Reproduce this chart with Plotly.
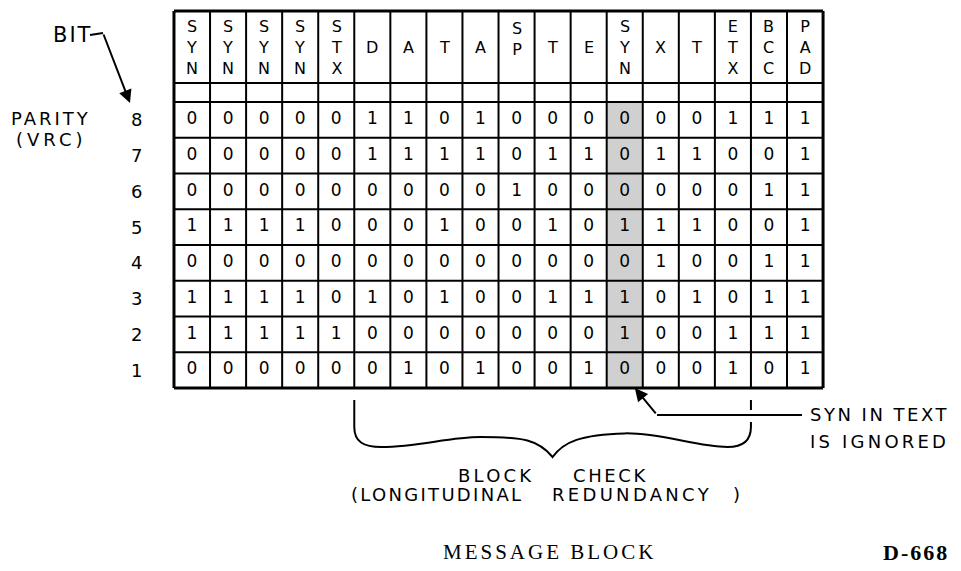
import plotly.graph_objects as go

# ---------------- data ----------------
COLUMNS = ["SYN", "SYN", "SYN", "SYN", "STX", "D", "A", "T", "A", "SP",
           "T", "E", "SYN", "X", "T", "ETX", "BCC", "PAD"]
BITS = [8, 7, 6, 5, 4, 3, 2, 1]
BIT_8 = [0, 0, 0, 0, 0, 1, 1, 0, 1, 0, 0, 0, 0, 0, 0, 1, 1, 1]
BIT_7 = [0, 0, 0, 0, 0, 1, 1, 1, 1, 0, 1, 1, 0, 1, 1, 0, 0, 1]
BIT_6 = [0, 0, 0, 0, 0, 0, 0, 0, 0, 1, 0, 0, 0, 0, 0, 0, 1, 1]
BIT_5 = [1, 1, 1, 1, 0, 0, 0, 1, 0, 0, 1, 0, 1, 1, 1, 0, 0, 1]
BIT_4 = [0, 0, 0, 0, 0, 0, 0, 0, 0, 0, 0, 0, 0, 1, 0, 0, 1, 1]
BIT_3 = [1, 1, 1, 1, 0, 1, 0, 1, 0, 0, 1, 1, 1, 0, 1, 0, 1, 1]
BIT_2 = [1, 1, 1, 1, 1, 0, 0, 0, 0, 0, 0, 0, 1, 0, 0, 1, 1, 1]
BIT_1 = [0, 0, 0, 0, 0, 0, 1, 0, 1, 0, 0, 1, 0, 0, 0, 1, 0, 1]
ROWS = [BIT_8, BIT_7, BIT_6, BIT_5, BIT_4, BIT_3, BIT_2, BIT_1]
IGNORED_COLUMN = 12          # SYN in text (shaded)
BLOCK_CHECK_FIRST = 5        # "D"
BLOCK_CHECK_LAST = 15        # "ETX"

# ---------------- style / layout ----------------
FONT = "DejaVu Sans"
SHADE = "#d0d0d0"
X_RANGE = [-5.103, 21.547]
Y_RANGE = [-4.843, 11.129]
HEADER_BOTTOM = 9.03
TABLE_TOP = 11.045
HEADER_MID = 10.03


def sp(text, ls):
    return f'<span style="letter-spacing:{ls}px">{text}</span>'


n = len(COLUMNS)
fig = go.Figure()

# shaded column (data rows only)
z = [[1 if c == IGNORED_COLUMN else None for c in range(n)] for _ in BITS]
fig.add_trace(go.Heatmap(
    x=list(range(n)), y=BITS, z=z,
    colorscale=[[0, SHADE], [1, SHADE]], showscale=False, hoverinfo="skip"))

# bit values
xs, ys, ts = [], [], []
for b, row in zip(BITS, ROWS):
    for c, v in enumerate(row):
        xs.append(c)
        ys.append(b)
        ts.append(str(v))
fig.add_trace(go.Scatter(
    x=xs, y=ys, text=ts, mode="text", textposition="middle center",
    textfont=dict(family=FONT, size=17, color="black"), hoverinfo="skip"))

shapes = []
# vertical grid lines
for k in range(n + 1):
    w = 3 if k in (0, n) else 2
    shapes.append(dict(type="line", xref="x", yref="y", x0=k - 0.5, x1=k - 0.5,
                       y0=min(BITS) - 0.5, y1=TABLE_TOP,
                       line=dict(color="black", width=w)))
# horizontal grid lines
hys = [b - 0.5 for b in range(min(BITS), max(BITS) + 2)] + [HEADER_BOTTOM, TABLE_TOP]
for y in hys:
    w = 3 if y in (min(BITS) - 0.5, TABLE_TOP) else 2
    shapes.append(dict(type="line", xref="x", yref="y", x0=-0.5, x1=n - 0.5,
                       y0=y, y1=y, line=dict(color="black", width=w)))

# brace under the block-check columns
x0 = BLOCK_CHECK_FIRST - 0.5
x1 = BLOCK_CHECK_LAST + 0.5
xm = (x0 + x1) / 2
brace = (f"M {x0},0.164 L {x0},-0.59 "
         f"C {x0},-1.0 {x0+0.25},-1.15 {x0+0.75},-1.15 "
         f"C {x0+1.8},-1.15 {x0+2.6},-0.87 {x0+3.5},-0.87 "
         f"C {xm-0.8},-0.87 {xm-0.4},-0.95 {xm},-1.43 "
         f"C {xm+0.3},-1.0 {xm+0.8},-0.8 {xm+2.0},-0.77 "
         f"C {xm+3.0},-0.75 {xm+4.0},-1.15 {xm+4.85},-1.15 "
         f"C {x1-0.2},-1.15 {x1},-0.95 {x1},-0.59 L {x1},-0.45 "
         f"M {x1},0.164 L {x1},-0.115")
shapes.append(dict(type="path", xref="x", yref="y", path=brace,
                   line=dict(color="black", width=2)))

# SYN-in-text leader line
syn_corner_x = IGNORED_COLUMN + 0.894
syn_y = -0.255
shapes.append(dict(type="line", xref="x", yref="y", x0=syn_corner_x, x1=16.915,
                   y0=syn_y, y1=syn_y, line=dict(color="black", width=2)))
# BIT dash
shapes.append(dict(type="line", xref="x", yref="y", x0=-2.83, x1=-2.469,
                   y0=10.374, y1=10.43, line=dict(color="black", width=2)))

ann = []
# column headers (stacked letters)
for c, lab in enumerate(COLUMNS):
    y = HEADER_MID
    if len(lab) == 2:
        y = HEADER_MID + 0.22
    ann.append(dict(x=c, y=y, text="<br>".join(lab), showarrow=False,
                    xanchor="center", yanchor="middle",
                    font=dict(family=FONT, size=16, color="black")))
# row labels
for b in BITS:
    ann.append(dict(x=-1.526, y=b, text=str(b), showarrow=False,
                    xanchor="center", yanchor="middle",
                    font=dict(family=FONT, size=18, color="black")))


def txt(x, y, t, size=18, ls=3, xanchor="center", family=FONT, bold=False):
    s = sp(t, ls)
    if bold:
        s = f"<b>{s}</b>"
    ann.append(dict(x=x, y=y, text=s, showarrow=False, xanchor=xanchor,
                    yanchor="middle", font=dict(family=family, size=size, color="black")))


txt(-3.315, 10.374, "BIT", size=21, ls=2)
txt(-3.911, 8.052, "PARITY", size=18, ls=3)
txt(-3.897, 7.437, "(VRC)", size=18, ls=4)
txt(17.08, syn_y, "SYN IN TEXT", size=18, ls=2.5, xanchor="left")
txt(17.08, -1.01, "IS IGNORED", size=18, ls=3.2, xanchor="left")
txt(8.443, -1.934, "BLOCK", size=18, ls=3.2)
txt(11.605, -1.934, "CHECK", size=18, ls=2.6)
txt(6.78, -2.493, "(LONGITUDINAL", size=18, ls=2.3)
txt(12.2, -2.493, "REDUNDANCY", size=18, ls=3.3)
txt(15.1, -2.493, ")", size=18, ls=0)
txt(9.9, -4.1, "MESSAGE BLOCK", size=21, ls=3, family="Liberation Serif")
txt(20.08, -4.1, "D-668", size=22, ls=2, family="Liberation Serif", bold=True)

# arrows
ann.append(dict(x=IGNORED_COLUMN + 0.28, y=min(BITS) - 0.5, ax=syn_corner_x, ay=syn_y,
                axref="x", ayref="y", xref="x", yref="y", text="", showarrow=True,
                arrowhead=2, arrowsize=1.3, arrowwidth=2, arrowcolor="black", standoff=0))
ann.append(dict(x=-1.72, y=8.472, ax=-2.469, ay=10.43,
                axref="x", ayref="y", xref="x", yref="y", text="", showarrow=True,
                arrowhead=2, arrowsize=1.3, arrowwidth=2, arrowcolor="black", standoff=0))

fig.update_layout(
    width=961, height=571, margin=dict(l=0, r=0, t=0, b=0),
    paper_bgcolor="white", plot_bgcolor="white", showlegend=False,
    shapes=shapes, annotations=ann,
    xaxis=dict(range=X_RANGE, visible=False, showgrid=False, zeroline=False, fixedrange=True),
    yaxis=dict(range=Y_RANGE, visible=False, showgrid=False, zeroline=False, fixedrange=True),
)
fig.write_html("out.html")
